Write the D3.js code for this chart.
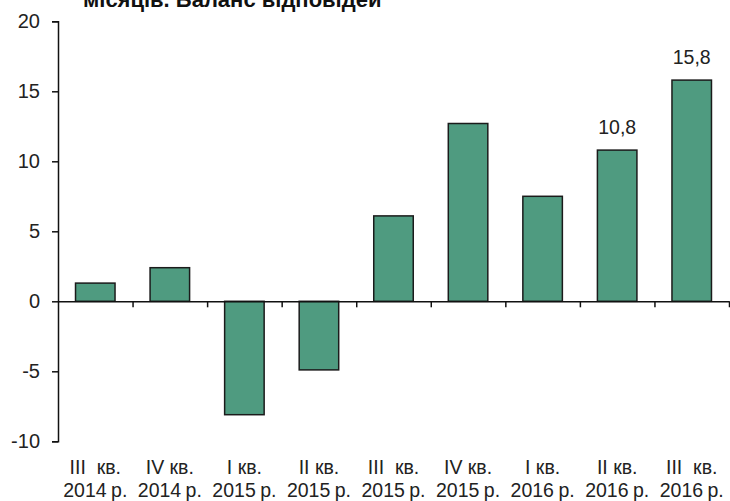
<!DOCTYPE html>
<meta charset="utf-8">
<style>
  body { margin: 0; background: white; }
  text { font-family: Arial, "Liberation Sans", sans-serif; }
</style>
<body>
<div id="chart"></div>
<script src="https://d3js.org/d3.v7.min.js"></script>
<script>

// data
var quarters = ["III  кв.", "IV кв.", "I кв.", "II кв.", "III  кв.", "IV кв.", "I кв.", "II кв.", "III  кв."];
var years = ["2014 р.", "2014 р.", "2015 р.", "2015 р.", "2015 р.", "2015 р.", "2016 р.", "2016 р.", "2016 р."];
var balance = [1.3, 2.4, -8.1, -4.9, 6.1, 12.7, 7.5, 10.8, 15.8];
var labelled = ["", "", "", "", "", "", "", "10,8", "15,8"];
var yTicks = [-10, -5, 0, 5, 10, 15, 20];
var title = "місяців. Баланс відповідей";

var W = 730, H = 501;
var margin = {top: 21.3, right: 1, bottom: 59.7, left: 58},
    width = W - margin.left - margin.right,
    height = H - margin.top - margin.bottom;

var svg = d3.select("#chart")
  .append("svg")
    .attr("width", W)
    .attr("height", H);

// title, only its last line shows in the frame (as in the source)
svg.append("text")
  .attr("x", 83)
  .attr("y", 7)
  .style("font-size", "22px")
  .style("font-weight", "bold")
  .attr("fill", "#111")
  .text(title);

var g = svg.append("g")
  .attr("transform", "translate(" + margin.left + "," + margin.top + ")");

var idx = d3.range(balance.length);

var x = d3.scaleBand()
  .domain(idx)
  .range([0, width])
  .paddingInner(0.47)
  .paddingOuter(0.235);

var y = d3.scaleLinear()
  .domain([-10, 20])
  .range([height, 0]);

// bars
g.selectAll("rect.bar")
  .data(idx)
  .enter()
  .append("rect")
    .attr("class", "bar")
    .attr("x", function(i) { return x(i); })
    .attr("width", x.bandwidth())
    .attr("y", function(i) { return y(Math.max(0, balance[i])); })
    .attr("height", function(i) { return Math.abs(y(balance[i]) - y(0)); })
    .style("fill", "#4f9b80")
    .style("stroke", "#1b1b1b")
    .style("stroke-width", 1.5);

// value labels
g.selectAll("text.val")
  .data(idx.filter(function(i) { return labelled[i] !== ""; }))
  .enter()
  .append("text")
    .attr("class", "val")
    .attr("x", function(i) { return x(i) + x.bandwidth() / 2; })
    .attr("y", function(i) { return y(balance[i]) - 16; })
    .attr("text-anchor", "middle")
    .style("font-size", "19.5px")
    .attr("fill", "#222")
    .text(function(i) { return labelled[i]; });

// y axis
var yAxis = g.append("g")
  .call(d3.axisLeft(y).tickValues(yTicks).tickSize(6).tickPadding(12).tickFormat(d3.format("d")));
yAxis.select(".domain").attr("stroke", "#111").attr("stroke-width", 1.5);
yAxis.selectAll(".tick line").attr("stroke", "#111").attr("stroke-width", 1.5);
yAxis.selectAll(".tick text")
  .style("font-size", "20px")
  .attr("fill", "#222")
  .text(function(d) { return d < 0 ? "-" + Math.abs(d) : d; });

// x axis along zero, ticks between categories
var xb = d3.scaleLinear().domain([0, balance.length]).range([0, width]);
var xAxis = g.append("g")
  .attr("transform", "translate(0," + y(0) + ")")
  .call(d3.axisBottom(xb).tickValues(d3.range(1, balance.length + 1)).tickSize(6).tickSizeOuter(0).tickFormat(""));
xAxis.select(".domain").attr("stroke", "#111").attr("stroke-width", 1.5);
xAxis.selectAll(".tick line").attr("stroke", "#111").attr("stroke-width", 1.5);

// category labels at the bottom
var cats = g.append("g")
  .attr("transform", "translate(0," + height + ")");
cats.selectAll("text.q")
  .data(idx)
  .enter()
  .append("text")
    .attr("x", function(i) { return xb(i + 0.5); })
    .attr("y", 33)
    .attr("text-anchor", "middle")
    .style("font-size", "19.5px")
    .style("white-space", "pre")
    .attr("fill", "#222")
    .text(function(i) { return quarters[i]; });
cats.selectAll("text.yr")
  .data(idx)
  .enter()
  .append("text")
    .attr("x", function(i) { return xb(i + 0.5); })
    .attr("y", 55.5)
    .attr("text-anchor", "middle")
    .style("font-size", "19.5px")
    .style("word-spacing", "-1px")
    .attr("fill", "#222")
    .text(function(i) { return years[i]; });

</script>
</body>
